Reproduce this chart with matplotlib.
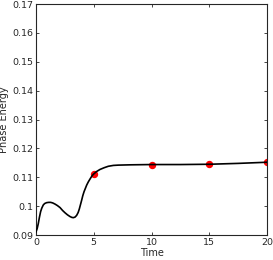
import numpy as np
import matplotlib
matplotlib.use("Agg")
import matplotlib.pyplot as plt

# curve
t = [0, 0.1, 0.2, 0.3, 0.4, 0.5, 0.63, 0.75, 0.92, 1.1, 1.27, 1.45, 1.65,
     1.85, 2.08, 2.3, 2.51, 2.72, 2.94, 3.1, 3.23, 3.38, 3.52, 3.65, 3.75,
     3.85, 3.95, 4.05, 4.16, 4.28, 4.39, 4.53, 4.68, 4.82, 4.96, 5.25, 5.54,
     5.9, 6.26, 6.7, 7.13, 8.14, 10, 12.5, 15, 17.5, 20]
energy = [0.0911, 0.0922, 0.0940, 0.0962, 0.0981, 0.0993, 0.1004, 0.1009,
          0.1012, 0.1013, 0.1013, 0.1011, 0.1007, 0.1002, 0.0995, 0.0985,
          0.0977, 0.0970, 0.0964, 0.0961, 0.0960, 0.0962, 0.0968, 0.0978,
          0.0990, 0.1005, 0.1020, 0.1036, 0.1050, 0.1062, 0.1073, 0.1084,
          0.1094, 0.1103, 0.1110, 0.1120, 0.1127, 0.1133, 0.1138, 0.1141,
          0.1142, 0.1143, 0.1144, 0.1144, 0.1145, 0.1148, 0.1152]

# red markers
t_mark = [5, 10, 15, 20]
e_mark = [0.1110, 0.1144, 0.1145, 0.1152]

xticks = [0, 5, 10, 15, 20]
yticks = [0.09, 0.10, 0.11, 0.12, 0.13, 0.14, 0.15, 0.16, 0.17]
ylabels = ["0.09", "0.1", "0.11", "0.12", "0.13", "0.14", "0.15", "0.16", "0.17"]

txt = "#262626"
fig = plt.figure(figsize=(2.73, 2.60), dpi=100)
ax = fig.add_axes([36 / 273, 1 - 235 / 260, 231 / 273, 231 / 260])

ax.plot(t_mark, e_mark, "o", color="red", markersize=4.3,
        markeredgewidth=1.0, zorder=2)
ax.plot(t, energy, color="black", linewidth=1.2, zorder=3)

ax.set_xlim(0, 20)
ax.set_ylim(0.09, 0.17)
ax.set_xticks(xticks)
ax.set_yticks(yticks)
ax.set_yticklabels(ylabels)
ax.tick_params(direction="in", top=True, right=True, length=2.5, width=0.6,
               labelsize=6.8, colors=txt, pad=2)
for s in ax.spines.values():
    s.set_linewidth(0.8)
    s.set_color(txt)
ax.set_xlabel("Time", fontsize=7, color=txt, labelpad=1)
ax.set_ylabel("Phase Energy", fontsize=7, color=txt, labelpad=2)

plt.savefig("out.png", dpi=100)
plt.close(fig)
